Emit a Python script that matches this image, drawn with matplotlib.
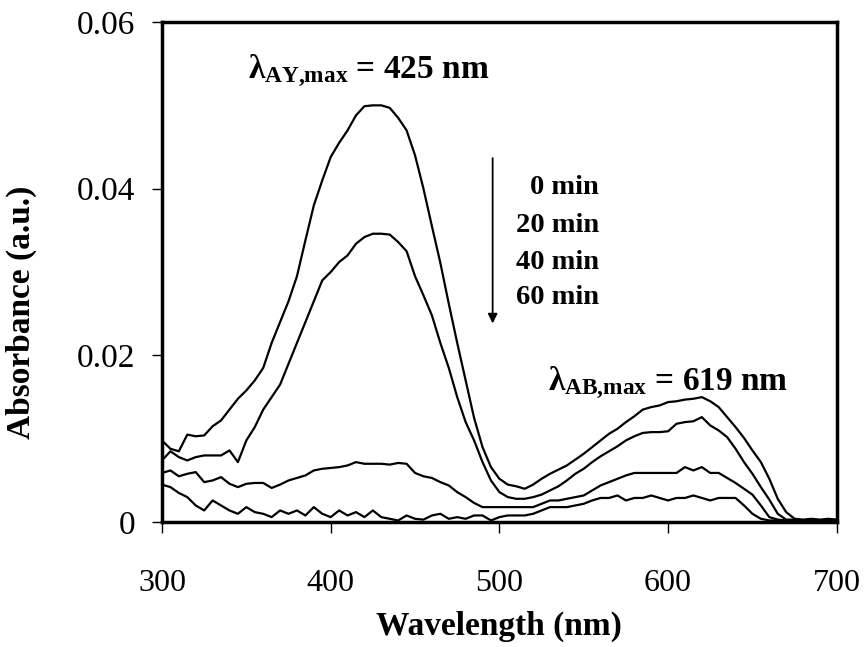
import matplotlib
matplotlib.use("Agg")
import matplotlib.pyplot as plt
import numpy as np

plt.rcParams['font.family'] = ['Liberation Serif', 'DejaVu Serif']
plt.rcParams['mathtext.fontset'] = 'custom'
plt.rcParams['mathtext.rm'] = 'Liberation Serif:bold'
plt.rcParams['mathtext.it'] = 'Liberation Serif:bold'
plt.rcParams['mathtext.bf'] = 'Liberation Serif:bold'

wavelength = list(range(300, 705, 5))

abs_0min = [0.0098, 0.0088, 0.0085, 0.0105, 0.0103, 0.0104, 0.0115, 0.0122, 0.0135, 0.0148,
            0.0158, 0.0170, 0.0185, 0.0215, 0.0240, 0.0265, 0.0295, 0.0338, 0.0380, 0.0410,
            0.0438, 0.0455, 0.0470, 0.0488, 0.0499, 0.0500, 0.0500, 0.0497, 0.0485, 0.0470,
            0.0440, 0.0400, 0.0355, 0.0311, 0.0262, 0.0215, 0.0170, 0.0125, 0.0090, 0.0066,
            0.0052, 0.0045, 0.0043, 0.0040, 0.0045, 0.0052, 0.0058, 0.0063, 0.0068, 0.0075,
            0.0082, 0.0090, 0.0098, 0.0106, 0.0112, 0.0120, 0.0127, 0.0135, 0.0138, 0.0140,
            0.0144, 0.0145, 0.0147, 0.0148, 0.0150, 0.0145, 0.0138, 0.0126, 0.0114, 0.0101,
            0.0086, 0.0072, 0.0052, 0.0028, 0.0012, 0.0004, 0.0003, 0.0004, 0.0003, 0.0004,
            0.0003]

abs_20min = [0.0074, 0.0085, 0.0078, 0.0074, 0.0078, 0.0080, 0.0080, 0.0080, 0.0086, 0.0072,
             0.0098, 0.0114, 0.0135, 0.0150, 0.0165, 0.0190, 0.0215, 0.0240, 0.0265, 0.0290,
             0.0300, 0.0312, 0.0320, 0.0334, 0.0342, 0.0346, 0.0346, 0.0345, 0.0336, 0.0325,
             0.0295, 0.0272, 0.0248, 0.0215, 0.0185, 0.0150, 0.0120, 0.0098, 0.0072, 0.0050,
             0.0036, 0.0030, 0.0028, 0.0028, 0.0030, 0.0033, 0.0038, 0.0043, 0.0050, 0.0058,
             0.0064, 0.0072, 0.0079, 0.0085, 0.0091, 0.0098, 0.0103, 0.0107, 0.0108, 0.0108,
             0.0109, 0.0118, 0.0120, 0.0121, 0.0126, 0.0116, 0.0110, 0.0102, 0.0088, 0.0072,
             0.0058, 0.0042, 0.0027, 0.0010, 0.0003, 0.0003, 0.0002, 0.0003, 0.0002, 0.0003,
             0.0002]

abs_40min = [0.0059, 0.0062, 0.0055, 0.0058, 0.0060, 0.0048, 0.0050, 0.0054, 0.0046, 0.0042,
             0.0046, 0.0047, 0.0047, 0.0041, 0.0045, 0.0050, 0.0053, 0.0056, 0.0062, 0.0064,
             0.0065, 0.0066, 0.0068, 0.0072, 0.0070, 0.0070, 0.0070, 0.0069, 0.0071, 0.0070,
             0.0059, 0.0055, 0.0053, 0.0048, 0.0044, 0.0036, 0.0030, 0.0023, 0.0018, 0.0018,
             0.0018, 0.0018, 0.0018, 0.0018, 0.0018, 0.0022, 0.0026, 0.0026, 0.0028, 0.0030,
             0.0032, 0.0038, 0.0044, 0.0048, 0.0052, 0.0056, 0.0059, 0.0059, 0.0059, 0.0059,
             0.0059, 0.0059, 0.0066, 0.0062, 0.0066, 0.0059, 0.0059, 0.0053, 0.0047, 0.0040,
             0.0033, 0.0020, 0.0006, 0.0003, 0.0002, 0.0002, 0.0002, 0.0002, 0.0002, 0.0002,
             0.0002]

abs_60min = [0.0045, 0.0042, 0.0035, 0.0030, 0.0020, 0.0014, 0.0026, 0.0020, 0.0014, 0.0010,
             0.0018, 0.0012, 0.0010, 0.0006, 0.0014, 0.0010, 0.0014, 0.0008, 0.0018, 0.0010,
             0.0006, 0.0014, 0.0008, 0.0012, 0.0006, 0.0014, 0.0006, 0.0004, 0.0002, 0.0008,
             0.0004, 0.0003, 0.0008, 0.0010, 0.0004, 0.0006, 0.0004, 0.0008, 0.0008, 0.0002,
             0.0006, 0.0008, 0.0008, 0.0008, 0.0010, 0.0014, 0.0018, 0.0018, 0.0018, 0.0020,
             0.0022, 0.0026, 0.0029, 0.0029, 0.0032, 0.0026, 0.0029, 0.0029, 0.0032, 0.0029,
             0.0026, 0.0029, 0.0029, 0.0032, 0.0029, 0.0026, 0.0029, 0.0029, 0.0029, 0.0020,
             0.0010, 0.0004, 0.0002, 0.0002, 0.0001, 0.0001, 0.0001, 0.0001, 0.0001, 0.0001,
             0.0001]

series = [abs_0min, abs_20min, abs_40min, abs_60min]
time_labels = ['0 min', '20 min', '40 min', '60 min']
x_ticks = [300, 400, 500, 600, 700]
y_ticks = [0, 0.02, 0.04, 0.06]
y_ticklabels = ['0', '0.02', '0.04', '0.06']

fig = plt.figure(figsize=(8.64, 6.47), dpi=100)
ax = fig.add_axes([0.1875, 0.193, 0.781, 0.773])

for s in series:
    ax.plot(wavelength, s, color='black', lw=1.6)

ax.set_xlim(300, 700)
ax.set_ylim(0, 0.06)
ax.set_xticks(x_ticks)
ax.set_xticklabels([str(t) for t in x_ticks])
ax.set_yticks(y_ticks)
ax.set_yticklabels(y_ticklabels)
ax.tick_params(axis='x', direction='out', length=8, width=1, pad=26, labelsize=23)
ax.tick_params(axis='y', direction='out', length=7, width=1, pad=12, labelsize=24)
for sp in ax.spines.values():
    sp.set_linewidth(2.5)

ax.set_xlabel('Wavelength (nm)', fontsize=24, fontweight='bold')
ax.set_ylabel('Absorbance (a.u.)', fontsize=24, fontweight='bold')
ax.xaxis.set_label_coords(0.5, -0.178)
ax.yaxis.set_label_coords(-0.185, 0.42)

ax.text(351, 0.0542, r'$\lambda_{\mathrm{AY{,}max}}$ = 425 nm', fontsize=24,
        fontweight='bold', va='center', ha='left')
ax.text(529, 0.0167, r'$\lambda_{\mathrm{AB{,}max}}$ = 619 nm', fontsize=24,
        fontweight='bold', va='center', ha='left')

legend_y = [0.0401, 0.0356, 0.0312, 0.0269]
for lab, yy in zip(time_labels, legend_y):
    ax.text(559, yy, lab, fontsize=20.5, fontweight='bold', ha='right', va='center')

ax.annotate('', xy=(496, 0.0235), xytext=(496, 0.0440),
            arrowprops=dict(arrowstyle='-|>', color='black', lw=1.3,
                            mutation_scale=14))

fig.savefig('out.png', dpi=100)
